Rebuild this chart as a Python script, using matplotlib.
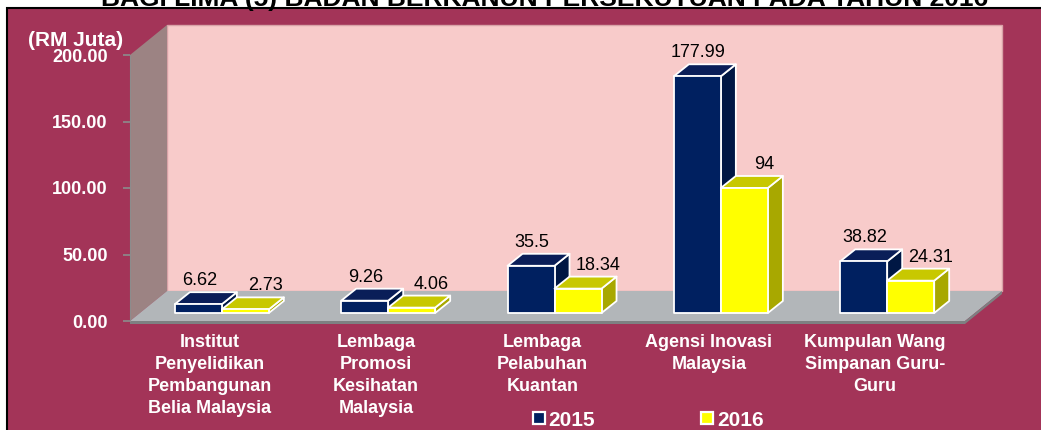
import matplotlib.pyplot as plt
import matplotlib.patches as mpatches
from matplotlib.lines import Line2D
import numpy as np

plt.rcParams['font.family'] = ['Liberation Sans', 'DejaVu Sans']

#--------------------------------------------------------------------------
# Data
#--------------------------------------------------------------------------
categories = ['Institut\nPenyelidikan\nPembangunan\nBelia Malaysia',
              'Lembaga\nPromosi\nKesihatan\nMalaysia',
              'Lembaga\nPelabuhan\nKuantan',
              'Agensi Inovasi\nMalaysia',
              'Kumpulan Wang\nSimpanan Guru-\nGuru']
years = ['2015', '2016']
val_2015 = [6.62, 9.26, 35.5, 177.99, 38.82]
val_2016 = [2.73, 4.06, 18.34, 94, 24.31]
txt_2015 = ['6.62', '9.26', '35.5', '177.99', '38.82']
txt_2016 = ['2.73', '4.06', '18.34', '94', '24.31']
yticks = [0, 50, 100, 150, 200]
ytick_labels = ['0.00', '50.00', '100.00', '150.00', '200.00']
title = 'BAGI LIMA (5) BADAN BERKANUN PERSEKUTUAN PADA TAHUN 2016'

#--------------------------------------------------------------------------
# Colours
#--------------------------------------------------------------------------
maroon = '#A33458'
pink = '#F8CBCA'
wall_left = '#9C8383'
floor_c = '#B2B6B9'
navy = ['#002060', '#0A1E58', '#001744']     # front, top, side
yellow = ['#FFFF00', '#C8C800', '#A8A800']

W, H = 1041, 430
fig = plt.figure(figsize=(W / 100, H / 100), dpi=100)
fig.patch.set_facecolor('white')
fig.patches.append(mpatches.Rectangle((7 / W, -0.01), 1.0, 1 - 8 / H + 0.01,
                                      transform=fig.transFigure, facecolor=maroon,
                                      edgecolor='black', linewidth=1.5, zorder=-10))

ax = fig.add_axes([130 / W, (H - 321) / H, (965 - 130) / W, (321 - 55) / H])
ax.set_xlim(-0.48, 4.54)
ax.set_ylim(0, 200)
ax.patch.set_visible(False)


# point in data coords shifted by some pixels
def pt(x, y, dx=0, dy=0):
    p = ax.transData.transform((x, y))
    return ax.transData.inverted().transform((p[0] + dx, p[1] + dy))


x0, x1 = ax.get_xlim()
DX, DY = 37, 30          # depth of walls (px)
BX, BY = 12, 8           # shift of bar fronts into the floor (px)
DBX, DBY = 15, 12        # depth of the bars (px)

#------------------ walls and floor ---------------------------------------
ax.add_patch(mpatches.Polygon([pt(x0, 0, DX, DY), pt(x1, 0, DX, DY), pt(x1, 200, DX, DY),
                               pt(x0, 200, DX, DY)], closed=True, fc=pink, ec='#D9A3A8',
                              lw=1, clip_on=False, zorder=1))
ax.add_patch(mpatches.Polygon([pt(x0, 0), pt(x0, 200), pt(x0, 200, DX, DY), pt(x0, 0, DX, DY)],
                              closed=True, fc=wall_left, ec='none', clip_on=False, zorder=1))
ax.add_patch(mpatches.Polygon([pt(x0, 0), pt(x1, 0), pt(x1, 0, DX, DY), pt(x0, 0, DX, DY)],
                              closed=True, fc=floor_c, ec='none', clip_on=False, zorder=2))
ax.add_patch(mpatches.Polygon([pt(x0, 0, 0, -3), pt(x1, 0, 0, -3), pt(x1, 0, DX, DY - 3),
                               pt(x1, 0, DX, DY), pt(x1, 0), pt(x0, 0)],
                              closed=True, fc='#7E8082', ec='none', clip_on=False, zorder=2))

#------------------ 3D bars -----------------------------------------------
w = 47 / 166.3
for k, (vals, txts, cols) in enumerate([(val_2015, txt_2015, navy), (val_2016, txt_2016, yellow)]):
    for i, v in enumerate(vals):
        xl = i - w if k == 0 else i
        xr = xl + w
        side = [pt(xr, 0, BX, BY), pt(xr, 0, BX + DBX, BY + DBY),
                pt(xr, v, BX + DBX, BY + DBY), pt(xr, v, BX, BY)]
        top = [pt(xl, v, BX, BY), pt(xr, v, BX, BY),
               pt(xr, v, BX + DBX, BY + DBY), pt(xl, v, BX + DBX, BY + DBY)]
        front = [pt(xl, 0, BX, BY), pt(xr, 0, BX, BY), pt(xr, v, BX, BY), pt(xl, v, BX, BY)]
        for poly, c in [(side, cols[2]), (top, cols[1]), (front, cols[0])]:
            ax.add_patch(mpatches.Polygon(poly, closed=True, fc=c, ec='white', lw=1.3,
                                          joinstyle='round', clip_on=False, zorder=3 + k))
        ax.annotate(txts[i], xy=((xl + xr) / 2, v),
                    xytext=(BX + (1 if k == 0 else 20), BY + DBY + 3),
                    textcoords='offset pixels', ha='center', va='bottom',
                    fontsize=13, color='black', zorder=6, annotation_clip=False)

#------------------ axes, labels ------------------------------------------
for s in ['top', 'right', 'bottom']:
    ax.spines[s].set_visible(False)
ax.spines['left'].set_color('#8C8C8C')
ax.set_xticks([])
ax.set_yticks(yticks, labels=ytick_labels)
ax.tick_params(axis='y', length=5, width=1.2, color='#8C8C8C', pad=11,
               labelcolor='white', labelsize=13)
for t in ax.get_yticklabels():
    t.set_fontweight('bold')

for i, c in enumerate(categories):
    ax.annotate(c, xy=(i, 0), xytext=(0, -13), textcoords='offset pixels',
                ha='center', va='top', fontsize=13, fontweight='bold', color='white',
                linespacing=1.38, annotation_clip=False)

fig.text(76 / W, 1 - 40 / H, '(RM Juta)', ha='center', va='center', fontsize=15,
         fontweight='bold', color='white')
fig.text(545 / W, 1 - 6 / H, title, ha='center', va='baseline', fontsize=19,
         fontweight='bold', color='black')

handles = [Line2D([], [], marker='s', ls='none', markersize=8.5, markerfacecolor=navy[0],
                  markeredgecolor='white', markeredgewidth=1.6),
           Line2D([], [], marker='s', ls='none', markersize=8.5, markerfacecolor=yellow[0],
                  markeredgecolor='white', markeredgewidth=1.6)]
leg = fig.legend(handles, years, loc='center', bbox_to_anchor=(648 / W, 1 - 420 / H), ncol=2,
                 frameon=False, fontsize=15, labelcolor='white',
                 columnspacing=5.1, handlelength=0.6, handletextpad=0.15, borderpad=0)
for t in leg.get_texts():
    t.set_fontweight('bold')

fig.savefig('out.png', dpi=100, facecolor='white')
